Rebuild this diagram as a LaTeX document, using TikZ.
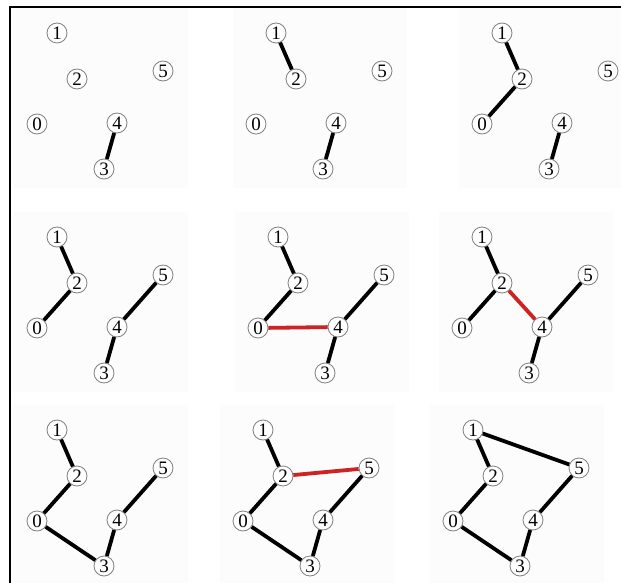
\documentclass[tikz,border=0pt]{standalone}
\usepackage{fontspec}
\setmainfont{Liberation Serif}
\usepackage{tikz}
\definecolor{myred}{RGB}{205,35,35}
\definecolor{panelgray}{RGB}{252,252,252}
\tikzset{
  vert/.style={circle,draw=gray,line width=0.8pt,fill=white,inner sep=0pt,
    minimum size=20pt,font=\fontsize{19}{19}\selectfont},
  edge/.style={line width=3.8pt,black},
  newedge/.style={line width=3.8pt,myred},
  panel/.style={fill=panelgray,draw=none}
}
% the six vertices of one panel
\newcommand{\graphnodes}{%
  \fill[panel] (14,-25) rectangle (188,155);
  \node[vert] (v1) at (57,0)   {1};
  \node[vert] (v2) at (77,46)  {2};
  \node[vert] (v5) at (163,38) {5};
  \node[vert] (v0) at (37,91)  {0};
  \node[vert] (v4) at (117,90) {4};
  \node[vert] (v3) at (104,136){3};
}
\begin{document}
\begin{tikzpicture}[x=1pt,y=-1pt]
  \useasboundingbox (0,0) rectangle (621,583);
  % Row 1, panel 1
  \begin{scope}[shift={(0,33)}]
    \graphnodes
    \draw[edge] (v3) -- (v4);
  \end{scope}
  % Row 1, panel 2
  \begin{scope}[shift={(219,33)}]
    \graphnodes
    \draw[edge] (v1) -- (v2);
    \draw[edge] (v3) -- (v4);
  \end{scope}
  % Row 1, panel 3
  \begin{scope}[shift={(445,33)}]
    \graphnodes
    \draw[edge] (v1) -- (v2);
    \draw[edge] (v2) -- (v0);
    \draw[edge] (v3) -- (v4);
  \end{scope}
  % Row 2, panel 1
  \begin{scope}[shift={(0,237)}]
    \graphnodes
    \draw[edge] (v1) -- (v2);
    \draw[edge] (v2) -- (v0);
    \draw[edge] (v3) -- (v4);
    \draw[edge] (v4) -- (v5);
  \end{scope}
  % Row 2, panel 2
  \begin{scope}[shift={(221,237)}]
    \graphnodes
    \draw[edge] (v1) -- (v2);
    \draw[edge] (v2) -- (v0);
    \draw[edge] (v3) -- (v4);
    \draw[edge] (v4) -- (v5);
    \draw[newedge] (v0) -- (v4);
  \end{scope}
  % Row 2, panel 3
  \begin{scope}[shift={(425,237)}]
    \graphnodes
    \draw[edge] (v1) -- (v2);
    \draw[edge] (v2) -- (v0);
    \draw[edge] (v3) -- (v4);
    \draw[edge] (v4) -- (v5);
    \draw[newedge] (v2) -- (v4);
  \end{scope}
  % Row 3, panel 1
  \begin{scope}[shift={(0,430)}]
    \graphnodes
    \draw[edge] (v1) -- (v2);
    \draw[edge] (v2) -- (v0);
    \draw[edge] (v0) -- (v3);
    \draw[edge] (v3) -- (v4);
    \draw[edge] (v4) -- (v5);
  \end{scope}
  % Row 3, panel 2
  \begin{scope}[shift={(206,430)}]
    \graphnodes
    \draw[edge] (v1) -- (v2);
    \draw[edge] (v2) -- (v0);
    \draw[edge] (v0) -- (v3);
    \draw[edge] (v3) -- (v4);
    \draw[edge] (v4) -- (v5);
    \draw[newedge] (v2) -- (v5);
  \end{scope}
  % Row 3, panel 3
  \begin{scope}[shift={(416,430)}]
    \graphnodes
    \draw[edge] (v1) -- (v2);
    \draw[edge] (v2) -- (v0);
    \draw[edge] (v0) -- (v3);
    \draw[edge] (v3) -- (v4);
    \draw[edge] (v4) -- (v5);
    \draw[edge] (v1) -- (v5);
  \end{scope}
  % Frame
  \draw[line width=2pt] (10,583) -- (10,7) -- (621,7);
\end{tikzpicture}
\end{document}
